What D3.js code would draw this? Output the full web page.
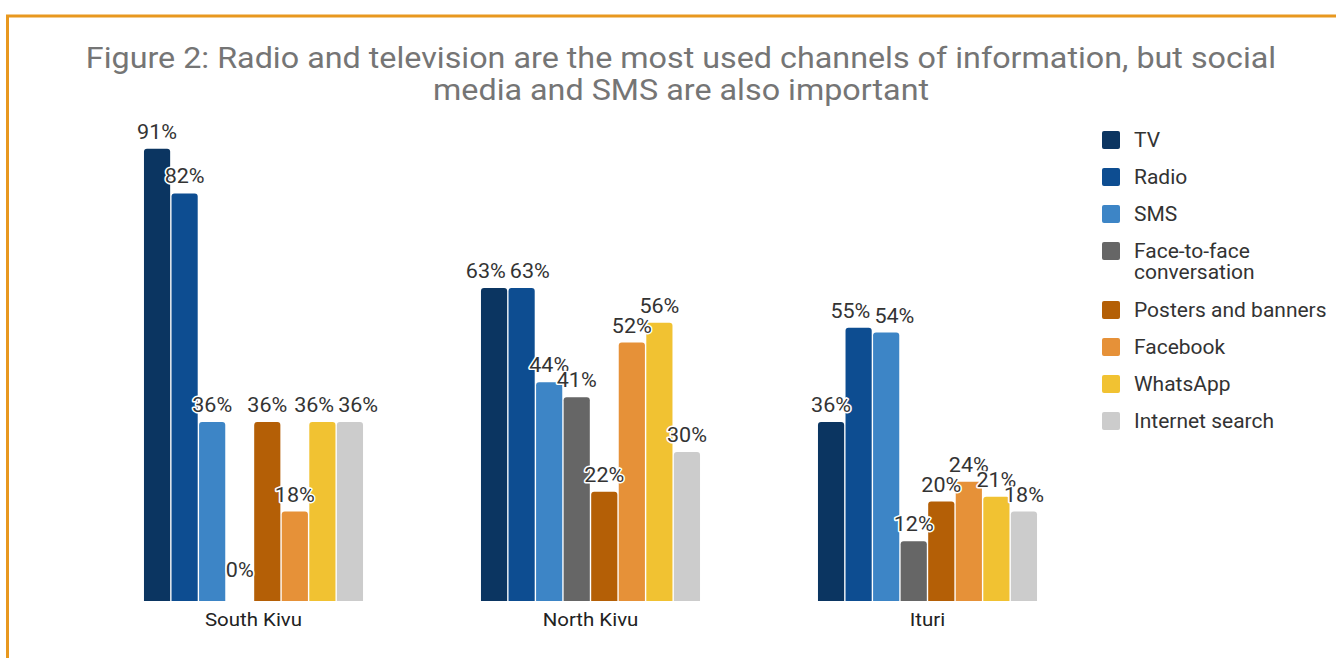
<!DOCTYPE html>
<html>
<head>
<meta charset="utf-8">
<script src="https://cdn.jsdelivr.net/npm/d3@7"></script>
<style>
  body { margin:0; background:#fff; }
  svg { font-family: Roboto, "Noto Sans", sans-serif; }
  .label { font-size:20px; fill:#333; paint-order:stroke; stroke:#fff; stroke-width:3px; stroke-linejoin:round; }
</style>
</head>
<body>
<div id="chart"></div>
<script>
//channels of information - grouped bars

var regions = ["South Kivu", "North Kivu", "Ituri"];
var channels = ["TV", "Radio", "SMS", "Face-to-face conversation", "Posters and banners", "Facebook", "WhatsApp", "Internet search"];
var legendLines = [["TV"], ["Radio"], ["SMS"], ["Face-to-face", "conversation"], ["Posters and banners"], ["Facebook"], ["WhatsApp"], ["Internet search"]];
var colors = ["#0b3561", "#0d4d91", "#3d85c6", "#666666", "#b45f06", "#e69138", "#f1c232", "#cccccc"];
var southKivu = [91, 82, 36, 0, 36, 18, 36, 36];
var northKivu = [63, 63, 44, 41, 22, 52, 56, 30];
var ituri = [36, 55, 54, 12, 20, 24, 21, 18];
var values = [southKivu, northKivu, ituri];

var width = 1336, height = 658;
var stretch = 1.077; // the reference text is a bit wider than plain Roboto

var svg = d3.select("#chart")
    .append("svg")
    .attr("width", width)
    .attr("height", height);

//frame
svg.append("path")
    .attr("d", "M7.5," + height + " L7.5,16 L" + width + ",16")
    .attr("fill", "none")
    .attr("stroke", "#e8981f")
    .attr("stroke-width", 3);

//title
var title = svg.append("text")
    .attr("transform", "translate(681,0) scale(" + stretch + ",1)")
    .attr("text-anchor", "middle")
    .attr("fill", "#757575")
    .style("font-size", "30px");
title.append("tspan").attr("x", 0).attr("y", 68)
    .text("Figure 2: Radio and television are the most used channels of information, but social");
title.append("tspan").attr("x", 0).attr("y", 100)
    .text("media and SMS are also important");

var x0 = d3.scaleBand()
    .domain(regions)
    .range([85, 1096])
    .paddingInner(0.35)
    .paddingOuter(0.175);

var x1 = d3.scaleBand()
    .domain(channels)
    .range([0, x0.bandwidth()])
    .paddingInner(0.05);

var y = d3.scaleLinear()
    .domain([0, 100])
    .range([601, 104]);

//category axis
var xAxis = svg.append("g")
    .attr("transform", "translate(0,601)")
    .call(d3.axisBottom(x0).tickSize(0).tickPadding(12));
xAxis.select(".domain").remove();
xAxis.selectAll(".tick text")
    .attr("transform", "scale(" + stretch + ",1)")
    .style("font-size", "19px")
    .style("font-family", "Roboto, sans-serif")
    .attr("fill", "#222");

var groups = svg.append("g")
    .selectAll("g")
    .data(regions)
    .enter()
    .append("g")
    .attr("transform", d => "translate(" + x0(d) + ",0)");

function barPath(x, yTop, w, h) {
    var r = Math.min(3, h);
    if (h <= 0) return "";
    return "M" + x + "," + (yTop + h) +
        " L" + x + "," + (yTop + r) +
        " Q" + x + "," + yTop + " " + (x + r) + "," + yTop +
        " L" + (x + w - r) + "," + yTop +
        " Q" + (x + w) + "," + yTop + " " + (x + w) + "," + (yTop + r) +
        " L" + (x + w) + "," + (yTop + h) + " Z";
}

groups.selectAll("path")
    .data((d, i) => values[i].map((v, j) => ({ channel: channels[j], value: v, color: colors[j] })))
    .enter()
    .append("path")
    .attr("d", d => barPath(x1(d.channel), y(d.value), x1.bandwidth(), y(0) - y(d.value)))
    .attr("fill", d => d.color);

//value labels, nudged sideways when two of them collide
groups.each(function(region, gi) {
    var g = d3.select(this);
    var labels = values[gi].map((v, j) => ({
        value: v,
        cx: x1(channels[j]) + x1.bandwidth() / 2,
        ty: Math.min(y(v) - 10, y(0) - 24)
    }));
    var texts = g.selectAll("text.label")
        .data(labels)
        .enter()
        .append("text")
        .attr("class", "label")
        .attr("text-anchor", "middle")
        .text(d => d.value + "%");
    texts.each(function(d) { d.w = this.getComputedTextLength() * stretch; });

    for (var iter = 0; iter < 20; iter++) {
        for (var a = 0; a < labels.length; a++) {
            for (var b = a + 1; b < labels.length; b++) {
                var la = labels[a], lb = labels[b];
                if (Math.abs(la.ty - lb.ty) >= 13) continue;
                var need = (la.w + lb.w) / 2 + 4;
                var gap = lb.cx - la.cx;
                if (gap < need) {
                    la.cx -= (need - gap) / 2;
                    lb.cx += (need - gap) / 2;
                }
            }
        }
    }

    texts.attr("transform", d => "translate(" + d.cx + "," + d.ty + ") scale(" + stretch + ",1)");
});

//legend
var legend = svg.append("g")
    .selectAll("g")
    .data(channels)
    .enter()
    .append("g");

var legendY = [131, 168, 205, 242, 301, 338, 375, 412];

legend.append("rect")
    .attr("x", 1102)
    .attr("y", (d, i) => legendY[i])
    .attr("width", 18)
    .attr("height", 18)
    .attr("rx", 2)
    .attr("fill", (d, i) => colors[i]);

legend.append("text")
    .attr("transform", (d, i) => "translate(1134," + (legendY[i] + 16) + ") scale(" + stretch + ",1)")
    .attr("fill", "#333")
    .style("font-size", "19.5px")
    .each(function(d, i) {
        var t = d3.select(this);
        legendLines[i].forEach((line, k) => {
            t.append("tspan")
                .attr("x", 0)
                .attr("y", k * 21)
                .text(line);
        });
    });
</script>
</body>
</html>
